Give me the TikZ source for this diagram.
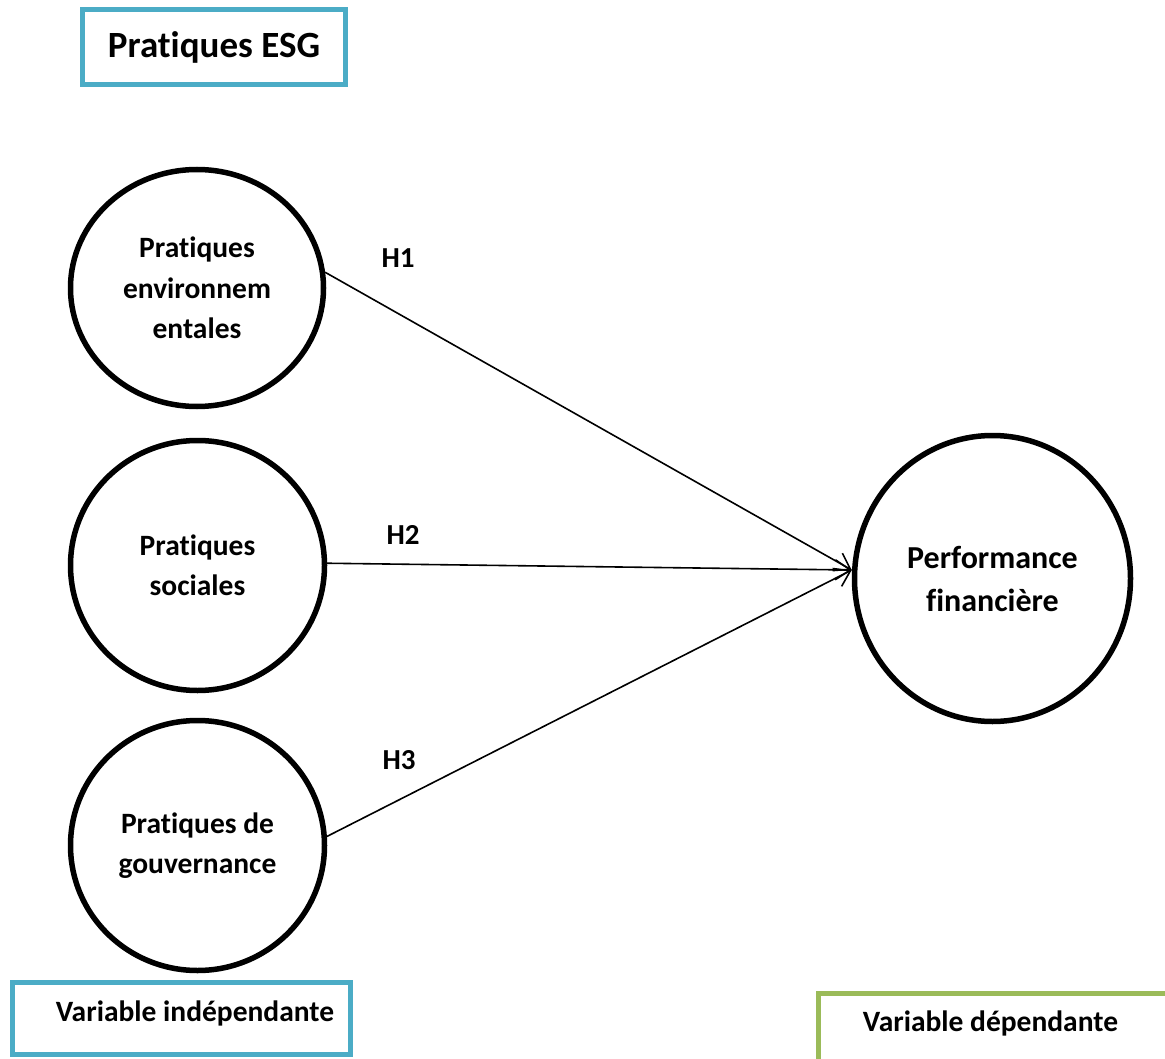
\documentclass[tikz,border=0pt]{standalone}
\usepackage{fontspec}
\setmainfont{Carlito}[Ligatures=NoCommon]
\usetikzlibrary{shapes.geometric,arrows.meta}
\definecolor{esgteal}{HTML}{4BACC6}
\definecolor{esggreen}{HTML}{9BBB59}
\begin{document}
\begin{tikzpicture}[x=1pt,y=-1pt,
  var/.style={ellipse,draw,line width=5.5pt,inner sep=0pt,align=center,
    font=\fontsize{29.5}{40.5}\selectfont\bfseries},
  link/.style={line width=1.6pt,-{Straight Barb[length=15pt,width=20pt,line width=1.6pt]}},
  hyp/.style={font=\fontsize{29}{34}\selectfont\bfseries},
  lbl/.style={anchor=base,font=\fontsize{29.5}{34}\selectfont\bfseries},
  framebox/.style={draw,line width=5pt,inner sep=0pt}
]
\useasboundingbox (0,0) rectangle (1165,1059);
\fill[white] (0,0) rectangle (1165,1059);
\clip (0,0) rectangle (1165,1059);

% title box
\node[framebox,draw=esgteal,minimum width=263pt,minimum height=75pt,
  font=\fontsize{37}{44}\selectfont\bfseries] (esg) at (214,47) {Pratiques ESG};

% variables
\node[var,minimum width=253pt,minimum height=237pt] (c1) at (197,288) {Pratiques\\environnem\\entales};
\node[var,minimum width=254pt,minimum height=250pt] (c2) at (197.5,565.5) {Pratiques\\sociales};
\node[var,minimum width=254pt,minimum height=250pt] (c3) at (197.5,845.5) {Pratiques de\\gouvernance};
\node[var,minimum width=276pt,minimum height=286pt,font=\fontsize{32}{43}\selectfont\bfseries] (c4) at (992.5,578.5) {Performance\\financière};

% connectors
\coordinate (tip) at ([yshift=8.5pt]c4.west);
\draw[link] (c1.7) -- (tip);
\draw[link] (c2.1) -- (tip);
\draw[link] (c3.4) -- (tip);

% hypotheses
\node[hyp] (h1) at (398,258) {H1};
\node[hyp] (h2) at (403,535) {H2};
\node[hyp] (h3) at (399,760) {H3};

% bottom labels
\node[framebox,draw=esgteal,minimum width=338pt,minimum height=72.5pt] (vibox) at (181,1018.25) {};
\node[lbl] (vitext) at (195,1021) {Variable indépendante};
\node[framebox,draw=esggreen,anchor=north west,minimum width=400pt,minimum height=120pt] (vdbox) at (815.5,990.5) {};
\node[lbl] (vdtext) at (990.5,1031) {Variable dépendante};
\end{tikzpicture}
\end{document}
